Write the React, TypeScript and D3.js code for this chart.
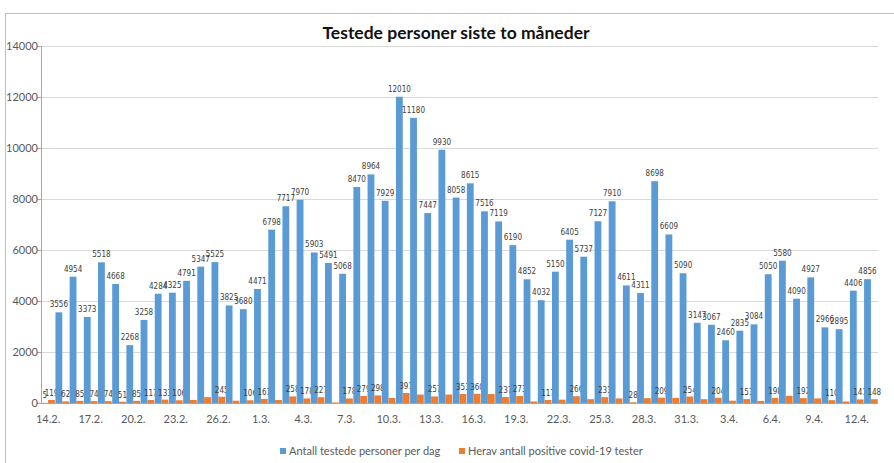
import React from 'react';
import * as d3 from 'd3';

// one category per day, 14.2. -> 13.4.
const days = [
  '14.2.', '15.2.', '16.2.', '17.2.', '18.2.', '19.2.', '20.2.', '21.2.', '22.2.', '23.2.',
  '24.2.', '25.2.', '26.2.', '27.2.', '28.2.', '1.3.', '2.3.', '3.3.', '4.3.', '5.3.',
  '6.3.', '7.3.', '8.3.', '9.3.', '10.3.', '11.3.', '12.3.', '13.3.', '14.3.', '15.3.',
  '16.3.', '17.3.', '18.3.', '19.3.', '20.3.', '21.3.', '22.3.', '23.3.', '24.3.', '25.3.',
  '26.3.', '27.3.', '28.3.', '29.3.', '30.3.', '31.3.', '1.4.', '2.4.', '3.4.', '4.4.',
  '5.4.', '6.4.', '7.4.', '8.4.', '9.4.', '10.4.', '11.4.', '12.4.', '13.4.'
];

const tested = [
  5, 3556, 4954, 3373, 5518, 4668, 2268, 3258, 4284, 4325,
  4791, 5347, 5525, 3825, 3680, 4471, 6798, 7717, 7970, 5903,
  5491, 5068, 8470, 8964, 7929, 12010, 11180, 7447, 9930, 8058,
  8615, 7516, 7119, 6190, 4852, 4032, 5150, 6405, 5737, 7127,
  7910, 4611, 4311, 8698, 6609, 5090, 3147, 3067, 2460, 2835,
  3084, 5050, 5580, 4090, 4927, 2966, 2895, 4406, 4856
];

const positive = [
  119, 62, 85, 74, 74, 51, 85, 117, 133, 106,
  120, 230, 245, 90, 106, 161, 120, 258, 178, 227,
  20, 178, 279, 298, 200, 391, 330, 257, 330, 353,
  360, 350, 237, 273, 60, 117, 130, 266, 150, 231,
  180, 28, 190, 209, 200, 254, 150, 204, 90, 153,
  80, 198, 280, 192, 180, 110, 60, 141, 148
];

// positive counts that carry a value label in the original
const positiveLabelled = [
  0, 1, 2, 3, 4, 5, 6, 7, 8, 9, 12, 14, 15, 17, 18, 19, 21, 22, 23, 25, 27, 29, 30,
  32, 33, 35, 37, 39, 41, 43, 45, 47, 49, 51, 53, 55, 57, 58
];

const yTicks = [0, 2000, 4000, 6000, 8000, 10000, 12000, 14000];

const seriesNames = ['Antall testede personer per dag', 'Herav antall positive covid-19 tester'];
const colors = ['#5B9BD5', '#ED7D31'];

const width = 894;
const height = 463;
const margin = { top: 46, right: 16, bottom: 60, left: 41 };
const font = 'Lato, "Open Sans", "Liberation Sans", sans-serif';
const labelFont = '"Liberation Sans Narrow", "DejaVu Sans Condensed", "Liberation Sans", sans-serif';

export default function App() {
  const x = d3.scaleBand<string>()
    .domain(days)
    .range([margin.left, width - margin.right])
    .padding(0);

  const sub = d3.scaleBand<string>()
    .domain(['t', 'p'])
    .range([0, x.bandwidth()])
    .paddingOuter(0.04)
    .paddingInner(0);

  const y = d3.scaleLinear()
    .domain([0, 14000])
    .range([height - margin.bottom, margin.top]);

  const x0 = margin.left;
  const x1 = width - margin.right;

  return (
    <svg width={width} height={height} style={{ position: 'absolute', left: 0, top: 0, background: '#fff' }}>
      <rect x={5.5} y={13.5} width={width + 10} height={height} fill="#fff" stroke="#BFBFBF" />

      <text x={456} y={39} textAnchor="middle" fontFamily={font} fontWeight="bold" fontSize={17.5} fill="#111">
        Testede personer siste to måneder
      </text>

      {/* grid + y axis */}
      {yTicks.map(t => (
        <g key={t}>
          {t > 0 && <line x1={x0} x2={x1} y1={y(t) + 0.5} y2={y(t) + 0.5} stroke="#D9D9D9" />}
          <line x1={x0 - 4} x2={x0} y1={y(t) + 0.5} y2={y(t) + 0.5} stroke="#A6A6A6" />
          <text x={38} y={y(t) + 4} textAnchor="end" fontFamily={font} fontSize={11} fill="#595959">{t}</text>
        </g>
      ))}
      <line x1={x0 + 0.5} x2={x0 + 0.5} y1={y(14000)} y2={y(0)} stroke="#A6A6A6" />

      {/* bars */}
      {days.map((d, i) => (
        <g key={d} transform={`translate(${x(d)},0)`}>
          <rect x={sub('t')} y={y(tested[i])} width={sub.bandwidth()} height={y(0) - y(tested[i])} fill={colors[0]} />
          <rect x={sub('p')} y={y(positive[i])} width={sub.bandwidth()} height={y(0) - y(positive[i])} fill={colors[1]} />
          <text x={(sub('t') as number) + sub.bandwidth() / 2} y={y(tested[i]) - 5} textAnchor="middle"
            fontFamily={labelFont} fontSize={8} fill="#404040">{tested[i]}</text>
          {positiveLabelled.includes(i) && (
            <text x={(sub('p') as number) + sub.bandwidth() / 2} y={y(positive[i]) - 4} textAnchor="middle"
              fontFamily={labelFont} fontSize={8} fill="#404040">{positive[i]}</text>
          )}
        </g>
      ))}

      {/* x axis */}
      <line x1={x0} x2={x1} y1={y(0) + 0.5} y2={y(0) + 0.5} stroke="#A6A6A6" />
      {days.map((d, i) => i % 3 === 0 && (
        <text key={d} x={(x(d) as number) + x.bandwidth() / 2} y={423} textAnchor="middle"
          fontFamily={font} fontSize={11} fill="#595959">{d}</text>
      ))}

      {/* legend */}
      {seriesNames.map((s, i) => {
        const lx = i === 0 ? 280 : 459;
        return (
          <g key={s}>
            <rect x={lx} y={448} width={6} height={6} fill={colors[i]} />
            <text x={lx + 9} y={455} fontFamily={font} fontSize={11} fill="#595959">{s}</text>
          </g>
        );
      })}
    </svg>
  );
}
